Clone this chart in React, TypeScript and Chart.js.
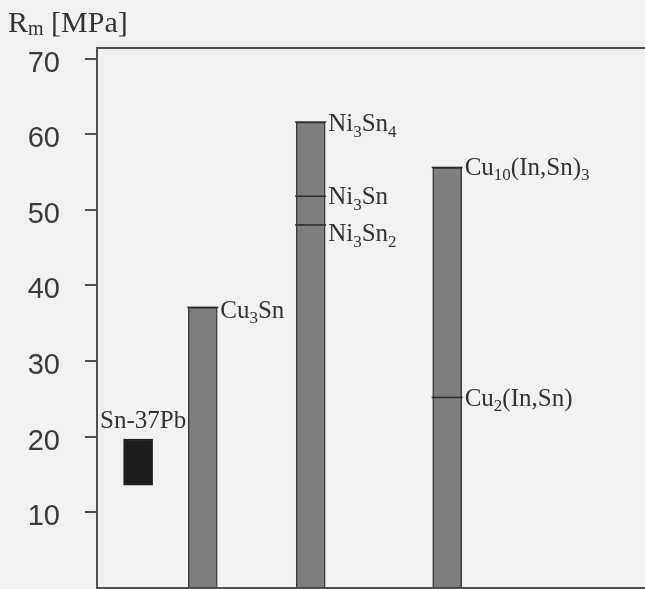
import React, { useEffect, useRef } from 'react';
import { Chart, registerables } from 'chart.js';

Chart.register(...registerables);

// ---- data ----
const categories = ['Sn-37Pb', 'Cu3Sn', 'Ni-Sn', 'Cu-In-Sn'];
const barPositions = [0.75, 1.93, 3.9, 6.39];
const barLow = [13.6, 0, 0, 0];
const barHigh = [19.7, 37.1, 61.6, 55.6];
const yTicks = [10, 20, 30, 40, 50, 60, 70];
const phaseLabels = ['Cu_{3}Sn', 'Ni_{3}Sn_{4}', 'Ni_{3}Sn', 'Ni_{3}Sn_{2}', 'Cu_{10}(In,Sn)_{3}', 'Cu_{2}(In,Sn)'];
const phaseBar = [1, 2, 2, 2, 3, 3];
const phaseValues = [37.1, 61.6, 51.8, 48.0, 55.6, 25.2];
const yTitleMain = 'R';
const yTitleSub = 'm';
const yTitleUnit = ' [MPa]';

const SERIF = '"Liberation Serif", "Times New Roman", serif';
const TEXT = '#333333';

function parseRich(s: string) {
  const segs: { t: string; sub: boolean }[] = [];
  const re = /_\{([^}]*)\}/g;
  let last = 0;
  let m: RegExpExecArray | null;
  while ((m = re.exec(s))) {
    if (m.index > last) segs.push({ t: s.slice(last, m.index), sub: false });
    segs.push({ t: m[1], sub: true });
    last = m.index + m[0].length;
  }
  if (last < s.length) segs.push({ t: s.slice(last), sub: false });
  return segs;
}

function drawRich(ctx: CanvasRenderingContext2D, s: string, x: number, y: number, size: number) {
  let cx = x;
  ctx.textBaseline = 'alphabetic';
  ctx.textAlign = 'left';
  const baseline = y + size * 0.33;
  for (const seg of parseRich(s)) {
    if (seg.sub) {
      ctx.font = `${Math.round(size * 0.66)}px ${SERIF}`;
      ctx.fillText(seg.t, cx, baseline + size * 0.22);
    } else {
      ctx.font = `${size}px ${SERIF}`;
      ctx.fillText(seg.t, cx, baseline);
    }
    cx += ctx.measureText(seg.t).width;
  }
}

const annotPlugin = {
  id: 'annot',
  beforeDraw(chart: any) {
    const { ctx, width, height } = chart;
    ctx.save();
    ctx.fillStyle = '#f1f1f0';
    ctx.fillRect(0, 0, width, height);
    ctx.restore();
  },
  afterDatasetsDraw(chart: any, _args: any, opts: any) {
    const { ctx, chartArea } = chart;
    const yScale = chart.scales.y;
    const meta = chart.getDatasetMeta(0);
    ctx.save();
    // frame top and bottom
    ctx.strokeStyle = '#505050';
    ctx.lineWidth = 2;
    ctx.beginPath();
    ctx.moveTo(chartArea.left, chartArea.top);
    ctx.lineTo(chartArea.right, chartArea.top);
    ctx.moveTo(chartArea.left, chartArea.bottom);
    ctx.lineTo(chartArea.right, chartArea.bottom);
    ctx.stroke();

    ctx.fillStyle = TEXT;
    // phase labels and marker lines
    phaseLabels.forEach((lab, i) => {
      const bar: any = meta.data[phaseBar[i]];
      const half = bar.width / 2;
      const y = yScale.getPixelForValue(phaseValues[i]);
      ctx.strokeStyle = '#2c2c2c';
      ctx.lineWidth = 1.6;
      ctx.beginPath();
      ctx.moveTo(bar.x - half - 1, y);
      ctx.lineTo(bar.x + half + 1, y);
      ctx.stroke();
      drawRich(ctx, lab, bar.x + half + 3, y + (opts.dy[i] || 0), opts.size);
    });

    // Sn-37Pb label above its bar
    const b0: any = meta.data[0];
    const top0 = yScale.getPixelForValue(barHigh[0]);
    ctx.font = `25px ${SERIF}`;
    ctx.textAlign = 'center';
    ctx.textBaseline = 'alphabetic';
    ctx.fillText(categories[0], b0.x + 5, top0 - 11);

    // axis title
    ctx.textAlign = 'left';
    ctx.font = `30px ${SERIF}`;
    ctx.fillText(yTitleMain, 8, 32);
    let cx = 8 + ctx.measureText(yTitleMain).width;
    ctx.font = `20px ${SERIF}`;
    ctx.fillText(yTitleSub, cx, 35);
    cx += ctx.measureText(yTitleSub).width;
    ctx.font = `30px ${SERIF}`;
    ctx.fillText(yTitleUnit, cx, 32);
    ctx.restore();
  },
};

export default function App() {
  const ref = useRef<HTMLCanvasElement | null>(null);
  useEffect(() => {
    if (!ref.current) return;
    const chart = new Chart(ref.current, {
      type: 'bar',
      data: {
        datasets: [
          {
            label: 'Rm',
            data: barPositions.map((x, i) => ({ x, y: [barLow[i], barHigh[i]] })) as any,
            backgroundColor: ['#1c1c1c', '#7e7e7e', '#7e7e7e', '#7e7e7e'],
            borderColor: ['#1c1c1c', '#3c3c3c', '#3c3c3c', '#3c3c3c'],
            borderWidth: 1.5,
            borderSkipped: false,
            barThickness: 29,
          },
        ],
      },
      options: {
        animation: false,
        responsive: false,
        maintainAspectRatio: false,
        layout: { padding: { top: 48, bottom: 1, left: 0, right: 0 } },
        plugins: {
          legend: { display: false },
          tooltip: { enabled: false },
          annot: { dy: [2, 1, 0, 8, -1, 0], size: 25 },
        } as any,
        scales: {
          x: { type: 'linear', min: 0, max: 10, offset: false, display: false },
          y: {
            type: 'linear',
            min: 0,
            max: 71.4,
            afterBuildTicks: (scale: any) => {
              scale.ticks = yTicks.map((v) => ({ value: v }));
            },
            afterFit: (scale: any) => {
              scale.width = 97;
              scale.paddingTop = 0;
              scale.paddingBottom = 0;
            },
            border: { display: true, color: '#505050', width: 2 },
            grid: {
              display: true,
              drawOnChartArea: false,
              drawTicks: true,
              tickLength: 12,
              color: '#505050',
              lineWidth: 2,
            },
            ticks: {
              padding: 25,
              labelOffset: 5,
              color: '#3a3a3a',
              font: { family: '"Liberation Sans", Arial, sans-serif', size: 29 },
            },
          },
        },
      },
      plugins: [annotPlugin],
    });
    return () => chart.destroy();
  }, []);
  return (
    <div style={{ position: 'fixed', left: 0, top: 0, width: 645, height: 589, overflow: 'hidden' }}>
      <canvas ref={ref} width={645} height={589} style={{ display: 'block', width: 645, height: 589 }} />
    </div>
  );
}
